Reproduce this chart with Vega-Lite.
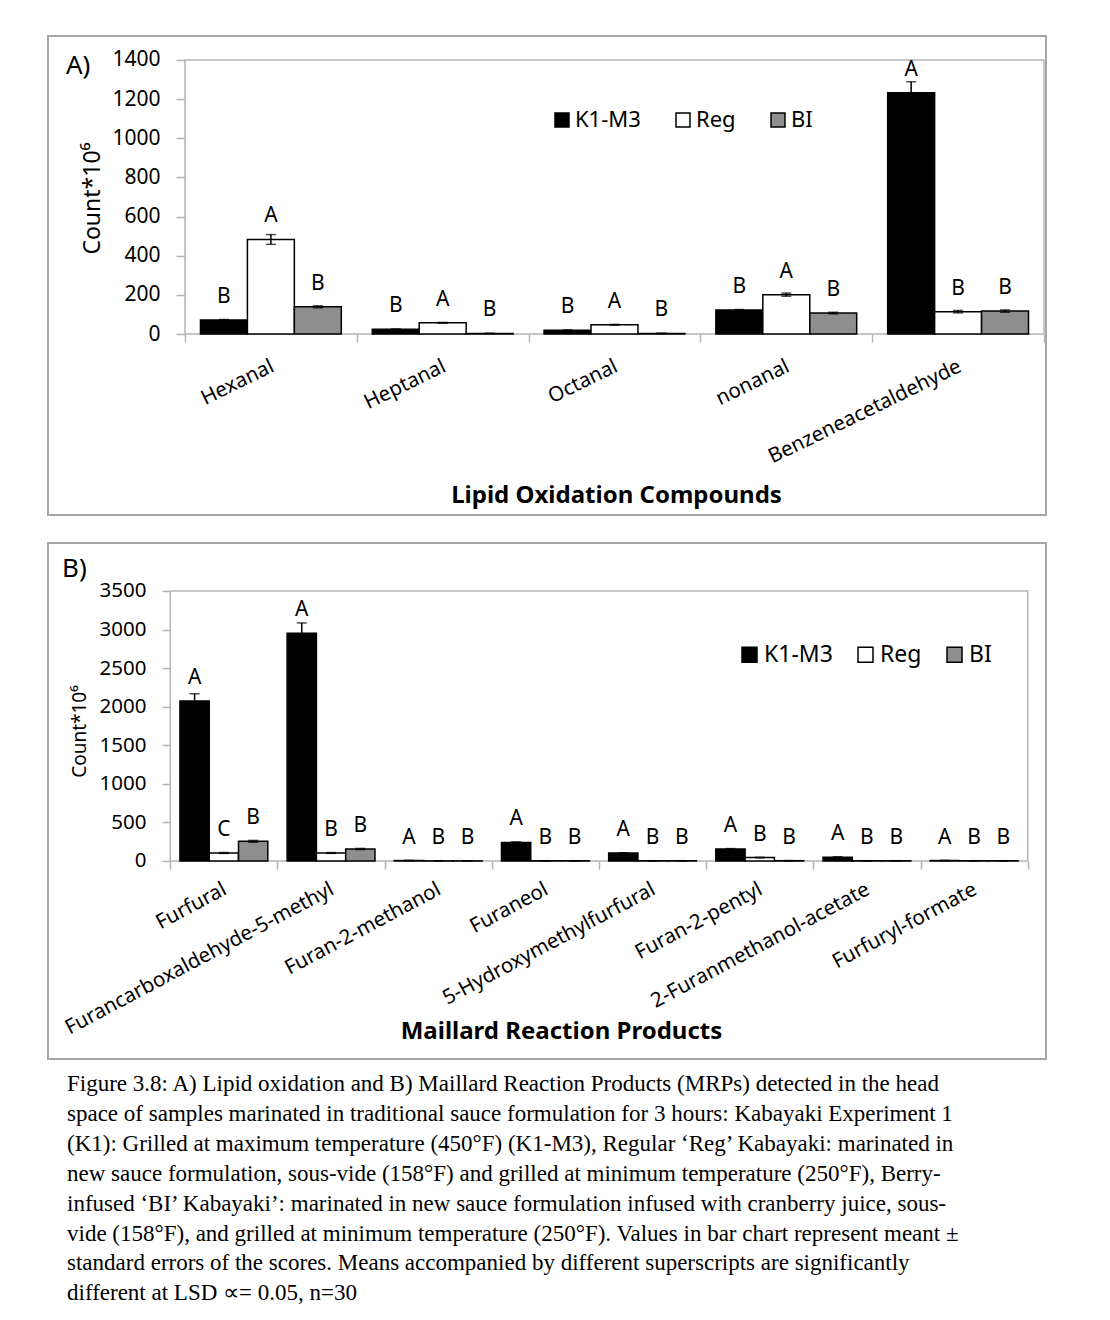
{
  "$schema": "https://vega.github.io/schema/vega-lite/v6.json",
  "padding": {"left": 47, "top": 35, "right": 0, "bottom": 0},
  "background": "white",
  "config": {
    "font": "Noto Sans",
    "view": {"stroke": "#a6a6a6", "strokeWidth": 2},
    "axis": {
      "domain": false,
      "grid": false,
      "labelColor": "black",
      "titleColor": "black",
      "tickColor": "#b4b4b4",
      "tickWidth": 1.5,
      "labelFont": "Noto Sans",
      "titleFont": "Noto Sans",
      "labelOverlap": false,
      "labelFlush": false,
      "labelLimit": 500
    },
    "legend": {
      "labelFont": "Noto Sans",
      "labelColor": "black",
      "symbolType": "square",
      "symbolStrokeColor": "black",
      "symbolStrokeWidth": 1.5,
      "labelLimit": 300,
      "padding": 0
    }
  },
  "datasets": {
    "lipid": [
      {"compound": "Hexanal", "group": "K1-M3", "mean": 71, "se": 3, "letter": "B"},
      {"compound": "Hexanal", "group": "Reg", "mean": 483, "se": 25, "letter": "A"},
      {"compound": "Hexanal", "group": "BI", "mean": 139, "se": 5, "letter": "B"},
      {"compound": "Heptanal", "group": "K1-M3", "mean": 24, "se": 2, "letter": "B"},
      {"compound": "Heptanal", "group": "Reg", "mean": 57, "se": 2, "letter": "A"},
      {"compound": "Heptanal", "group": "BI", "mean": 3, "se": 0.5, "letter": "B"},
      {"compound": "Octanal", "group": "K1-M3", "mean": 19, "se": 2, "letter": "B"},
      {"compound": "Octanal", "group": "Reg", "mean": 47, "se": 2, "letter": "A"},
      {"compound": "Octanal", "group": "BI", "mean": 3, "se": 0.5, "letter": "B"},
      {"compound": "nonanal", "group": "K1-M3", "mean": 122, "se": 3, "letter": "B"},
      {"compound": "nonanal", "group": "Reg", "mean": 201, "se": 8, "letter": "A"},
      {"compound": "nonanal", "group": "BI", "mean": 107, "se": 4, "letter": "B"},
      {"compound": "Benzeneacetaldehyde", "group": "K1-M3", "mean": 1233, "se": 56, "letter": "A"},
      {"compound": "Benzeneacetaldehyde", "group": "Reg", "mean": 114, "se": 6, "letter": "B"},
      {"compound": "Benzeneacetaldehyde", "group": "BI", "mean": 117, "se": 6, "letter": "B"}
    ],
    "mrp": [
      {"compound": "Furfural", "group": "K1-M3", "mean": 2073, "se": 95, "letter": "A"},
      {"compound": "Furfural", "group": "Reg", "mean": 104, "se": 6, "letter": "C"},
      {"compound": "Furfural", "group": "BI", "mean": 255, "se": 12, "letter": "B"},
      {"compound": "Furancarboxaldehyde-5-methyl", "group": "K1-M3", "mean": 2951, "se": 135, "letter": "A"},
      {"compound": "Furancarboxaldehyde-5-methyl", "group": "Reg", "mean": 104, "se": 5, "letter": "B"},
      {"compound": "Furancarboxaldehyde-5-methyl", "group": "BI", "mean": 155, "se": 8, "letter": "B"},
      {"compound": "Furan-2-methanol", "group": "K1-M3", "mean": 6, "se": 1, "letter": "A"},
      {"compound": "Furan-2-methanol", "group": "Reg", "mean": 2, "se": 1, "letter": "B"},
      {"compound": "Furan-2-methanol", "group": "BI", "mean": 2, "se": 1, "letter": "B"},
      {"compound": "Furaneol", "group": "K1-M3", "mean": 240, "se": 8, "letter": "A"},
      {"compound": "Furaneol", "group": "Reg", "mean": 3, "se": 1, "letter": "B"},
      {"compound": "Furaneol", "group": "BI", "mean": 3, "se": 1, "letter": "B"},
      {"compound": "5-Hydroxymethylfurfural", "group": "K1-M3", "mean": 103, "se": 4, "letter": "A"},
      {"compound": "5-Hydroxymethylfurfural", "group": "Reg", "mean": 3, "se": 1, "letter": "B"},
      {"compound": "5-Hydroxymethylfurfural", "group": "BI", "mean": 3, "se": 1, "letter": "B"},
      {"compound": "Furan-2-pentyl", "group": "K1-M3", "mean": 155, "se": 6, "letter": "A"},
      {"compound": "Furan-2-pentyl", "group": "Reg", "mean": 45, "se": 3, "letter": "B"},
      {"compound": "Furan-2-pentyl", "group": "BI", "mean": 4, "se": 1, "letter": "B"},
      {"compound": "2-Furanmethanol-acetate", "group": "K1-M3", "mean": 50, "se": 3, "letter": "A"},
      {"compound": "2-Furanmethanol-acetate", "group": "Reg", "mean": 3, "se": 1, "letter": "B"},
      {"compound": "2-Furanmethanol-acetate", "group": "BI", "mean": 3, "se": 1, "letter": "B"},
      {"compound": "Furfuryl-formate", "group": "K1-M3", "mean": 6, "se": 1, "letter": "A"},
      {"compound": "Furfuryl-formate", "group": "Reg", "mean": 3, "se": 1, "letter": "B"},
      {"compound": "Furfuryl-formate", "group": "BI", "mean": 3, "se": 1, "letter": "B"}
    ]
  },
  "vconcat": [
    {
      "width": 998,
      "height": 479,
      "title": {"text": "A)", "anchor": "start", "frame": "group", "orient": "top", "offset": -64, "dx": 18, "baseline": "alphabetic", "font": "Noto Sans", "fontSize": 26, "fontWeight": "normal", "color": "black"},
      "data": {"name": "lipid"},
      "layer": [
        {
          "data": {"values": [{}]},
          "mark": {"type": "rect", "fill": "transparent", "stroke": "#b4b4b4", "strokeWidth": 1.5},
          "encoding": {
            "x": {"datum": "Hexanal", "type": "nominal", "bandPosition": 0, "title": "Lipid Oxidation Compounds",
                  "scale": {"domain": ["Hexanal", "Heptanal", "Octanal", "nonanal", "Benzeneacetaldehyde"], "paddingInner": 0, "paddingOuter": 0.4045, "align": 0.9856}},
            "x2": {"datum": "Benzeneacetaldehyde", "bandPosition": 1},
            "y": {"datum": 0, "type": "quantitative", "title": "Count*10⁶", "scale": {"domain": [-924.8, 1522.6], "nice": false, "zero": false}},
            "y2": {"datum": 1400}
          }
        },
        {
          "mark": {"type": "bar", "stroke": "black", "strokeWidth": 1.5},
          "encoding": {
            "x": {"field": "compound", "type": "nominal", "title": "Lipid Oxidation Compounds",
                  "scale": {"domain": ["Hexanal", "Heptanal", "Octanal", "nonanal", "Benzeneacetaldehyde"], "paddingInner": 0, "paddingOuter": 0.4045, "align": 0.9856},
                  "axis": {"titleFontSize": 24, "titleFontWeight": "bold", "titleX": 568, "titleY": 168, "titleBaseline": "alphabetic",
                           "offset": -181, "tickBand": "extent", "tickSize": 8, "labelAngle": -26, "labelAlign": "right", "labelBaseline": "top", "labelFontSize": 20.5, "labelPadding": 14, "labelOffset": -3}},
            "xOffset": {"field": "group", "type": "nominal", "scale": {"domain": ["K1-M3", "Reg", "BI"], "paddingInner": 0, "paddingOuter": 0.33}},
            "y": {"field": "mean", "type": "quantitative", "title": "Count*10⁶", "scale": {"domain": [-924.8, 1522.6], "nice": false, "zero": false},
                  "axis": {"titleFontSize": 23, "titleFontWeight": "normal", "titleX": -93, "titleY": 162, "titleBaseline": "middle", "format": "d",
                           "offset": -137, "values": [0, 200, 400, 600, 800, 1000, 1200, 1400], "tickSize": 9, "labelFontSize": 21, "labelPadding": 16}},
            "y2": {"datum": 0},
            "fill": {"field": "group", "type": "nominal", "scale": {"domain": ["K1-M3", "Reg", "BI"], "range": ["#000000", "#ffffff", "#8e8e8e"]},
                     "legend": {"title": null, "orient": "none", "legendX": 503, "legendY": 73, "direction": "horizontal", "columns": 3, "columnPadding": 31,
                                "symbolSize": 196, "labelFontSize": 22, "labelOffset": 2}}
          }
        },
        {
          "mark": {"type": "errorbar", "ticks": true, "color": "black", "thickness": 1.5, "size": 10},
          "encoding": {
            "x": {"field": "compound", "type": "nominal", "title": "Lipid Oxidation Compounds",
                  "scale": {"domain": ["Hexanal", "Heptanal", "Octanal", "nonanal", "Benzeneacetaldehyde"], "paddingInner": 0, "paddingOuter": 0.4045, "align": 0.9856}},
            "xOffset": {"field": "group", "type": "nominal", "scale": {"domain": ["K1-M3", "Reg", "BI"], "paddingInner": 0, "paddingOuter": 0.33}},
            "y": {"field": "mean", "type": "quantitative", "title": "Count*10⁶", "scale": {"domain": [-924.8, 1522.6], "nice": false, "zero": false}},
            "yError": {"field": "se"}
          }
        },
        {
          "mark": {"type": "text", "dy": -23, "baseline": "middle", "fontSize": 21, "color": "black"},
          "encoding": {
            "x": {"field": "compound", "type": "nominal", "title": "Lipid Oxidation Compounds",
                  "scale": {"domain": ["Hexanal", "Heptanal", "Octanal", "nonanal", "Benzeneacetaldehyde"], "paddingInner": 0, "paddingOuter": 0.4045, "align": 0.9856}},
            "xOffset": {"field": "group", "type": "nominal", "scale": {"domain": ["K1-M3", "Reg", "BI"], "paddingInner": 0, "paddingOuter": 0.33}},
            "y": {"field": "mean", "type": "quantitative", "title": "Count*10⁶", "scale": {"domain": [-924.8, 1522.6], "nice": false, "zero": false}},
            "text": {"field": "letter"}
          }
        }
      ]
    },
    {
      "width": 998,
      "height": 516,
      "title": {"text": "B)", "anchor": "start", "frame": "group", "orient": "top", "offset": -60, "dx": 14, "baseline": "alphabetic", "font": "Noto Sans", "fontSize": 26, "fontWeight": "normal", "color": "black"},
      "data": {"name": "mrp"},
      "layer": [
        {
          "data": {"values": [{}]},
          "mark": {"type": "rect", "fill": "transparent", "stroke": "#b4b4b4", "strokeWidth": 1.5},
          "encoding": {
            "x": {"datum": "Furfural", "type": "nominal", "bandPosition": 0, "title": "Maillard Reaction Products",
                  "scale": {"domain": ["Furfural", "Furancarboxaldehyde-5-methyl", "Furan-2-methanol", "Furaneol", "5-Hydroxymethylfurfural", "Furan-2-pentyl", "2-Furanmethanol-acetate", "Furfuryl-formate"], "paddingInner": 0, "paddingOuter": 0.6559, "align": 0.8698}},
            "x2": {"datum": "Furfuryl-formate", "bandPosition": 1},
            "y": {"datum": 0, "type": "quantitative", "title": "Count*10⁶", "scale": {"domain": [-2566.7, 4122.2], "nice": false, "zero": false}},
            "y2": {"datum": 3500}
          }
        },
        {
          "mark": {"type": "bar", "stroke": "black", "strokeWidth": 1.5},
          "encoding": {
            "x": {"field": "compound", "type": "nominal", "title": "Maillard Reaction Products",
                  "scale": {"domain": ["Furfural", "Furancarboxaldehyde-5-methyl", "Furan-2-methanol", "Furaneol", "5-Hydroxymethylfurfural", "Furan-2-pentyl", "2-Furanmethanol-acetate", "Furfuryl-formate"], "paddingInner": 0, "paddingOuter": 0.6559, "align": 0.8698},
                  "axis": {"titleFontSize": 24, "titleFontWeight": "bold", "titleX": 513, "titleY": 177, "titleBaseline": "alphabetic",
                           "offset": -198, "tickBand": "extent", "tickSize": 8, "labelAngle": -28, "labelAlign": "right", "labelBaseline": "top", "labelFontSize": 20.5, "labelPadding": 10, "labelOffset": -4}},
            "xOffset": {"field": "group", "type": "nominal", "scale": {"domain": ["K1-M3", "Reg", "BI"], "paddingInner": 0, "paddingOuter": 0.33}},
            "y": {"field": "mean", "type": "quantitative", "title": "Count*10⁶", "scale": {"domain": [-2566.7, 4122.2], "nice": false, "zero": false},
                  "axis": {"titleFontSize": 19, "titleFontWeight": "normal", "titleX": -91, "titleY": 188, "titleBaseline": "middle", "format": "d",
                           "offset": -122, "values": [0, 500, 1000, 1500, 2000, 2500, 3000, 3500], "tickSize": 8, "labelFontSize": 20.5, "labelPadding": 16}},
            "y2": {"datum": 0},
            "fill": {"field": "group", "type": "nominal", "scale": {"domain": ["K1-M3", "Reg", "BI"], "range": ["#000000", "#ffffff", "#8e8e8e"]},
                     "legend": {"title": null, "orient": "none", "legendX": 690, "legendY": 100, "direction": "horizontal", "columns": 3, "columnPadding": 21,
                                "symbolSize": 225, "labelFontSize": 23, "labelOffset": 3}}
          }
        },
        {
          "mark": {"type": "errorbar", "ticks": true, "color": "black", "thickness": 1.5, "size": 10},
          "encoding": {
            "x": {"field": "compound", "type": "nominal", "title": "Maillard Reaction Products",
                  "scale": {"domain": ["Furfural", "Furancarboxaldehyde-5-methyl", "Furan-2-methanol", "Furaneol", "5-Hydroxymethylfurfural", "Furan-2-pentyl", "2-Furanmethanol-acetate", "Furfuryl-formate"], "paddingInner": 0, "paddingOuter": 0.6559, "align": 0.8698}},
            "xOffset": {"field": "group", "type": "nominal", "scale": {"domain": ["K1-M3", "Reg", "BI"], "paddingInner": 0, "paddingOuter": 0.33}},
            "y": {"field": "mean", "type": "quantitative", "title": "Count*10⁶", "scale": {"domain": [-2566.7, 4122.2], "nice": false, "zero": false}},
            "yError": {"field": "se"}
          }
        },
        {
          "mark": {"type": "text", "dy": -23, "baseline": "middle", "fontSize": 21, "color": "black"},
          "encoding": {
            "x": {"field": "compound", "type": "nominal", "title": "Maillard Reaction Products",
                  "scale": {"domain": ["Furfural", "Furancarboxaldehyde-5-methyl", "Furan-2-methanol", "Furaneol", "5-Hydroxymethylfurfural", "Furan-2-pentyl", "2-Furanmethanol-acetate", "Furfuryl-formate"], "paddingInner": 0, "paddingOuter": 0.6559, "align": 0.8698}},
            "xOffset": {"field": "group", "type": "nominal", "scale": {"domain": ["K1-M3", "Reg", "BI"], "paddingInner": 0, "paddingOuter": 0.33}},
            "y": {"field": "mean", "type": "quantitative", "title": "Count*10⁶", "scale": {"domain": [-2566.7, 4122.2], "nice": false, "zero": false}},
            "text": {"field": "letter"}
          }
        }
      ]
    }
  ],
  "spacing": 26,
  "resolve": {
    "scale": {"x": "independent", "y": "independent", "xOffset": "independent", "fill": "independent"},
    "legend": {"fill": "independent"}
  },
  "title": {
    "text": [
      "Figure 3.8: A) Lipid oxidation and B) Maillard Reaction Products (MRPs) detected in the head",
      "space of samples marinated in traditional sauce formulation for 3 hours: Kabayaki Experiment 1",
      "(K1): Grilled at maximum temperature (450°F) (K1-M3), Regular ‘Reg’ Kabayaki: marinated in",
      "new sauce formulation, sous-vide (158°F) and grilled at minimum temperature (250°F), Berry-",
      "infused ‘BI’ Kabayaki’: marinated in new sauce formulation infused with cranberry juice, sous-",
      "vide (158°F), and grilled at minimum temperature (250°F). Values in bar chart represent meant ±",
      "standard errors of the scores. Means accompanied by different superscripts are significantly",
      "different at LSD  ∝= 0.05, n=30"
    ],
    "orient": "bottom",
    "anchor": "start",
    "frame": "group",
    "baseline": "top",
    "offset": 13,
    "dx": 19,
    "font": "Liberation Serif",
    "fontSize": 23,
    "fontWeight": "normal",
    "color": "black",
    "lineHeight": 29.9
  }
}
